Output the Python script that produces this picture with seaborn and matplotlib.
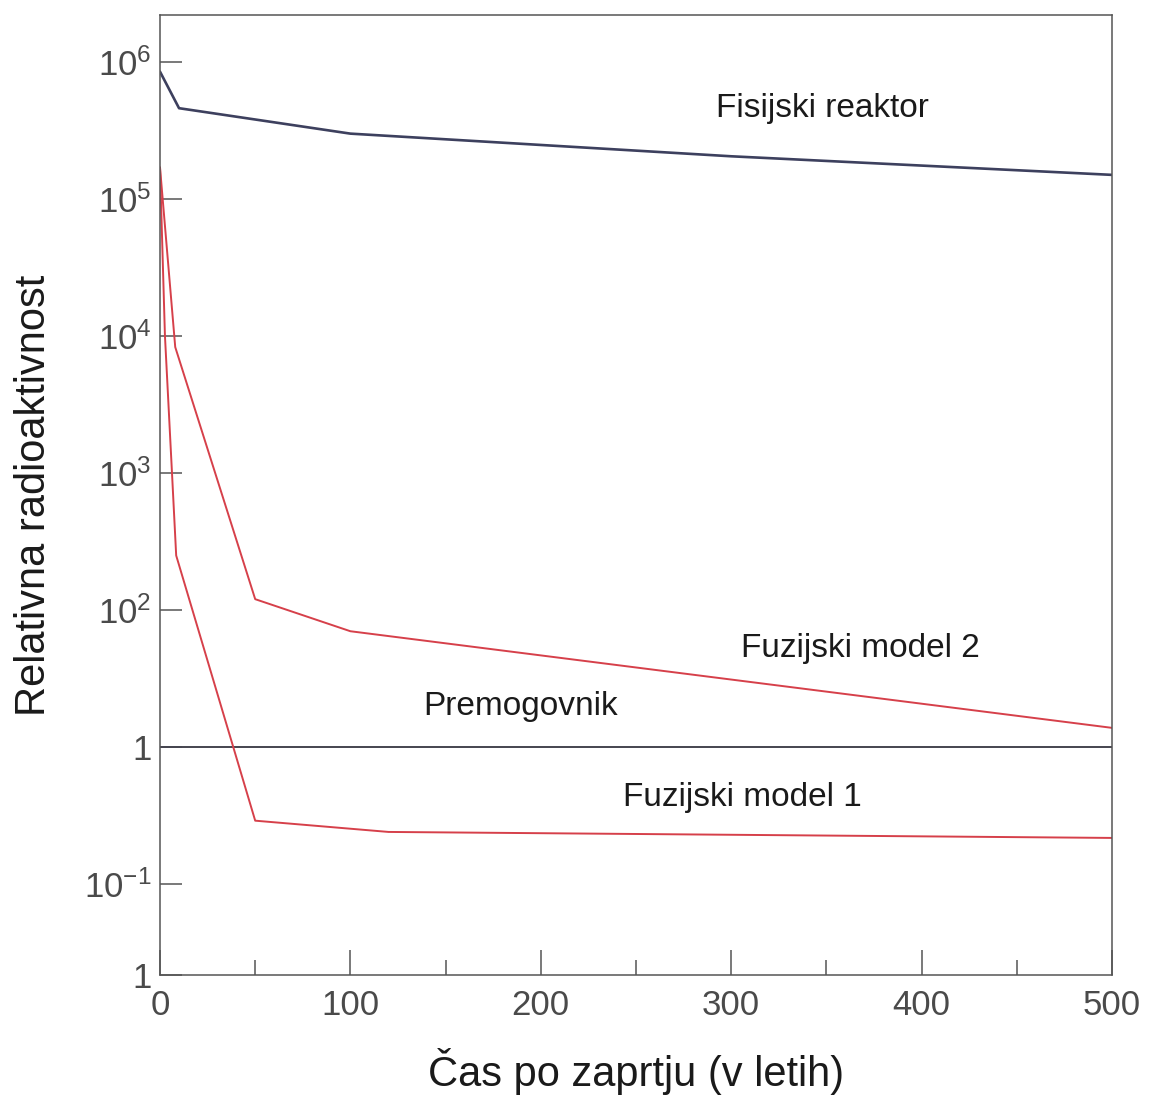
import numpy as np
import pandas as pd
import matplotlib
matplotlib.use("Agg")
import matplotlib.pyplot as plt
from matplotlib.ticker import NullLocator, FixedLocator
import seaborn as sns

# ---- data ----
fission_t = [0, 10, 100, 300, 500]
fission_v = [8.5e5, 4.6e5, 3.0e5, 2.05e5, 1.5e5]

fusion2_t = [0, 8, 50, 100, 500]
fusion2_v = [1.7e5, 8.3e3, 120, 70, 13.8]

fusion1_t = [0, 2.6, 6.3, 8.5, 50, 120, 500]
fusion1_v = [1.7e5, 1.0e4, 1.0e3, 250, 2.9, 2.4, 2.17]

coal_t = [0, 500]
coal_v = [10, 10]

ytick_vals = [1e6, 1e5, 1e4, 1e3, 1e2, 1e1, 1e0]
ytick_labels = [r"$\mathregular{10^{6}}$", r"$\mathregular{10^{5}}$", r"$\mathregular{10^{4}}$",
                r"$\mathregular{10^{3}}$", r"$\mathregular{10^{2}}$", "1",
                r"$\mathregular{10^{-1}}$"]
corner_label = "1"
xtick_vals = [0, 100, 200, 300, 400, 500]
xtick_labels = ["0", "100", "200", "300", "400", "500"]

labels = {
    "Fisijski reaktor": (292, 3.97e5),
    "Fuzijski model 2": (305, 45.4),
    "Premogovnik": (138, 17.1),
    "Fuzijski model 1": (243, 3.71),
}

# ---- style ----
sns.set_theme(style="white")
plt.rcParams["font.family"] = ["Liberation Sans", "DejaVu Sans"]
plt.rcParams["mathtext.fontset"] = "custom"
plt.rcParams["mathtext.rm"] = "Liberation Sans"
plt.rcParams["mathtext.it"] = "Liberation Sans:italic"
plt.rcParams["mathtext.bf"] = "Liberation Sans:bold"

fig = plt.figure(figsize=(11.51, 10.97), dpi=100)
ax = fig.add_axes([160 / 1151, 1 - 975 / 1097, 952 / 1151, 960 / 1097])

fission_col = "#3d405e"
coal_col = "#45454f"
red = "#d6404a"

sns.lineplot(x=fission_t, y=fission_v, ax=ax, color=fission_col, linewidth=1.9)
sns.lineplot(x=coal_t, y=coal_v, ax=ax, color=coal_col, linewidth=1.4)
sns.lineplot(x=fusion2_t, y=fusion2_v, ax=ax, color=red, linewidth=1.4)
sns.lineplot(x=fusion1_t, y=fusion1_v, ax=ax, color=red, linewidth=1.4)

ax.set_yscale("log")
ybot = 10 ** -0.664
ytop = 10 ** 6.343
ax.set_ylim(ybot, ytop)
ax.set_xlim(0, 500)

ax.yaxis.set_minor_locator(NullLocator())
ax.set_yticks(ytick_vals + [ybot])
ax.set_yticklabels(ytick_labels + [corner_label])
ax.yaxis.get_major_ticks()[-1].tick1line.set_visible(False)

ax.set_xticks(xtick_vals)
ax.set_xticklabels(xtick_labels)
ax.xaxis.set_minor_locator(FixedLocator([50, 150, 250, 350, 450]))

tick_col = "#555555"
ax.tick_params(axis="y", which="major", direction="in", length=16, width=1.1,
               color=tick_col, labelsize=25, labelcolor="#4a4a4a", pad=6,
               left=True, right=False)
ax.tick_params(axis="x", which="major", direction="in", length=18, width=1.1,
               color=tick_col, labelsize=25, labelcolor="#4a4a4a", pad=10,
               bottom=True, top=False)
ax.tick_params(axis="x", which="minor", direction="in", length=11, width=1.1,
               color=tick_col, bottom=True, top=False)

for s in ax.spines.values():
    s.set_visible(True)
    s.set_color(tick_col)
    s.set_linewidth(1.1)

ax.set_xlabel("Čas po zaprtju (v letih)", fontsize=30, color="#1a1a1a", labelpad=19)
ax.set_ylabel("Relativna radioaktivnost", fontsize=30, color="#1a1a1a", labelpad=22)

for txt, (x, y) in labels.items():
    ax.text(x, y, txt, fontsize=24, color="#1a1a1a", ha="left", va="baseline")

ax.grid(False)
ax.set_facecolor("white")
fig.savefig("out.png", dpi=100, facecolor="white")
